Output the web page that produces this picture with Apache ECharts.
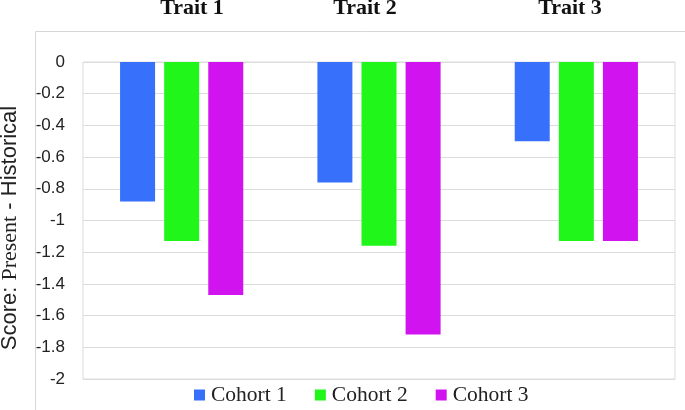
<!DOCTYPE html>
<html><head><meta charset="utf-8">
<script src="https://cdn.jsdelivr.net/npm/echarts@6/dist/echarts.min.js"></script>
<style>html,body{margin:0;padding:0;background:#fff}#c{width:685px;height:410px}</style>
</head><body><div id="c"></div>
<script>
const categories = ['Trait 1', 'Trait 2', 'Trait 3'];
const seriesNames = ['Cohort 1', 'Cohort 2', 'Cohort 3'];
const cohort1 = [-0.88, -0.76, -0.50];
const cohort2 = [-1.13, -1.16, -1.13];
const cohort3 = [-1.47, -1.72, -1.13];
const colors = ['#3670FB', '#21F61A', '#D114EF'];
const traitLabelX = [192, 365, 570];

const chart = echarts.init(document.getElementById('c'), null, {renderer: 'canvas'});
const values = [cohort1, cohort2, cohort3];
const serif = '"Liberation Serif", "Times New Roman", serif';
const sans = '"Liberation Sans", Arial, sans-serif';

chart.setOption({
  animation: false,
  backgroundColor: '#fff',
  grid: {left: 83, right: 10, top: 62, height: 317, show: true, borderColor: '#dcdcdc', borderWidth: 1},
  xAxis: {
    type: 'category', data: categories,
    axisLine: {show: false}, axisTick: {show: false}, axisLabel: {show: false}
  },
  yAxis: {
    type: 'value', min: -2, max: 0, interval: 0.2,
    axisLine: {show: false}, axisTick: {show: false},
    axisLabel: {color: '#222', fontFamily: sans, fontSize: 17, margin: 18},
    splitLine: {lineStyle: {color: '#dcdcdc', width: 1}}
  },
  legend: {
    data: seriesNames, left: 194, top: 384, padding: 0,
    itemWidth: 11, itemHeight: 11, itemGap: 28, icon: 'rect',
    textStyle: {fontFamily: serif, fontSize: 21.5, color: '#222', padding: [0, 0, 0, 1]}
  },
  graphic: [
    {type: 'rect', left: 33, top: 29, z: -10, silent: true,
     shape: {width: 651, height: 379}, style: {fill: 'none', stroke: '#d6d6d6', lineWidth: 1}},
    {type: 'text', x: 10, y: 228, rotation: Math.PI / 2, silent: true,
     style: {
       text: '{a|Score: }{b|Present}{a| - Historical}',
       align: 'center', verticalAlign: 'middle',
       rich: {
         a: {fontFamily: sans, fontSize: 22, fill: '#222'},
         b: {fontFamily: serif, fontSize: 22, fill: '#222'}
       }
     }}
  ].concat(categories.map((c, i) => ({
    type: 'text', x: traitLabelX[i], y: -2.5, silent: true,
    style: {text: c, fontFamily: serif, fontWeight: 'bold', fontSize: 22, fill: '#111',
            align: 'center', verticalAlign: 'top'}
  }))),
  series: seriesNames.map((n, i) => ({
    name: n, type: 'bar', data: values[i], barWidth: 35, barGap: '26%',
    itemStyle: {color: colors[i]}
  }))
});
</script></body></html>
